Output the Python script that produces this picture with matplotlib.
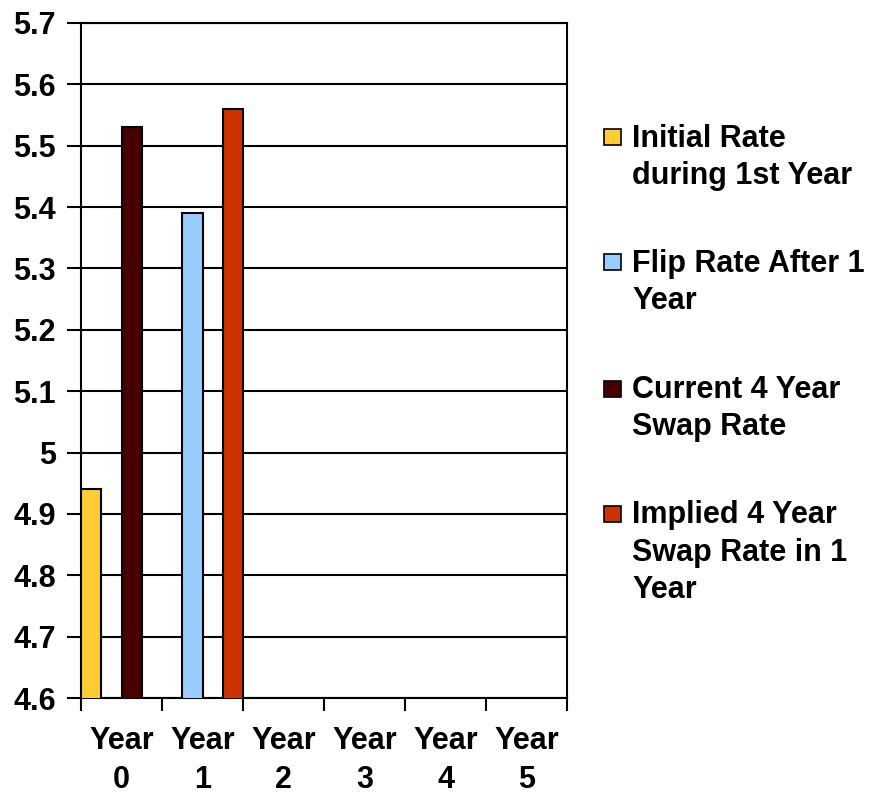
import numpy as np
import matplotlib
matplotlib.use('Agg')
import matplotlib.pyplot as plt
import matplotlib.patches as mpatches

plt.rcParams['font.family'] = ['Liberation Sans', 'DejaVu Sans']
plt.rcParams['font.weight'] = 'bold'

# data
categories = ['Year\n0', 'Year\n1', 'Year\n2', 'Year\n3', 'Year\n4', 'Year\n5']
series_names = ['Initial Rate\nduring 1st Year', 'Flip Rate After 1\nYear',
                'Current 4 Year\nSwap Rate', 'Implied 4 Year\nSwap Rate in 1\nYear']
initial_rate = [4.94, np.nan, np.nan, np.nan, np.nan, np.nan]
flip_rate = [np.nan, 5.39, np.nan, np.nan, np.nan, np.nan]
current_swap = [5.53, np.nan, np.nan, np.nan, np.nan, np.nan]
implied_swap = [np.nan, 5.56, np.nan, np.nan, np.nan, np.nan]
y_ticks = [4.6, 4.7, 4.8, 4.9, 5.0, 5.1, 5.2, 5.3, 5.4, 5.5, 5.6, 5.7]
y_labels = ['4.6', '4.7', '4.8', '4.9', '5', '5.1', '5.2', '5.3', '5.4', '5.5', '5.6', '5.7']

colors = ['#FFCC33', '#99CCFF', '#480000', '#CC3300']
all_series = [initial_rate, flip_rate, current_swap, implied_swap]

FS = 22

fig = plt.figure(figsize=(8.74, 7.94), dpi=100)
ax = fig.add_axes([81/874, 96/794, 486/874, 675/794])

x = np.arange(len(categories))
bw = 0.25
for k, (vals, c) in enumerate(zip(all_series, colors)):
    ax.bar(x - 0.5 + k*bw, vals, width=bw, align='edge', color=c,
           edgecolor='black', linewidth=1.5, zorder=3)

ax.set_xlim(-0.5, len(categories) - 0.5)
ax.set_ylim(4.6, 5.7)
ax.set_yticks(y_ticks)
ax.set_yticklabels(y_labels)
ax.yaxis.grid(True, color='black', linewidth=1.5, zorder=0)

# tick marks on category boundaries, labels in the middle
ax.set_xticks(np.arange(len(categories) + 1) - 0.5)
ax.set_xticklabels([])
ax.set_xticks(x, minor=True)
ax.set_xticklabels(categories, minor=True, linespacing=1.42)
ax.tick_params(axis='x', which='minor', length=0, pad=20, labelsize=FS)
ax.tick_params(axis='x', which='major', length=9, width=1.5)
ax.tick_params(axis='y', length=10, width=1.5, pad=8, labelsize=FS)
for sp in ax.spines.values():
    sp.set_linewidth(1.5)

# legend on the right, drawn line by line so the box sits on the first line
leg_base = [146.7, 271.7, 398, 523]   # first-line baselines, px from top
line_gap = 37.5
for name, c, yb in zip(series_names, colors, leg_base):
    fig.patches.append(mpatches.Rectangle((604/874, 1 - (yb - 1.5)/794),
                                          17/874, 16/794, transform=fig.transFigure,
                                          facecolor=c, edgecolor='black', linewidth=1.2))
    for i, line in enumerate(name.split('\n')):
        fig.text(632/874, 1 - (yb + i*line_gap)/794, line, fontsize=FS,
                 fontweight='bold', va='baseline', ha='left')

fig.savefig('out.png', dpi=100)
